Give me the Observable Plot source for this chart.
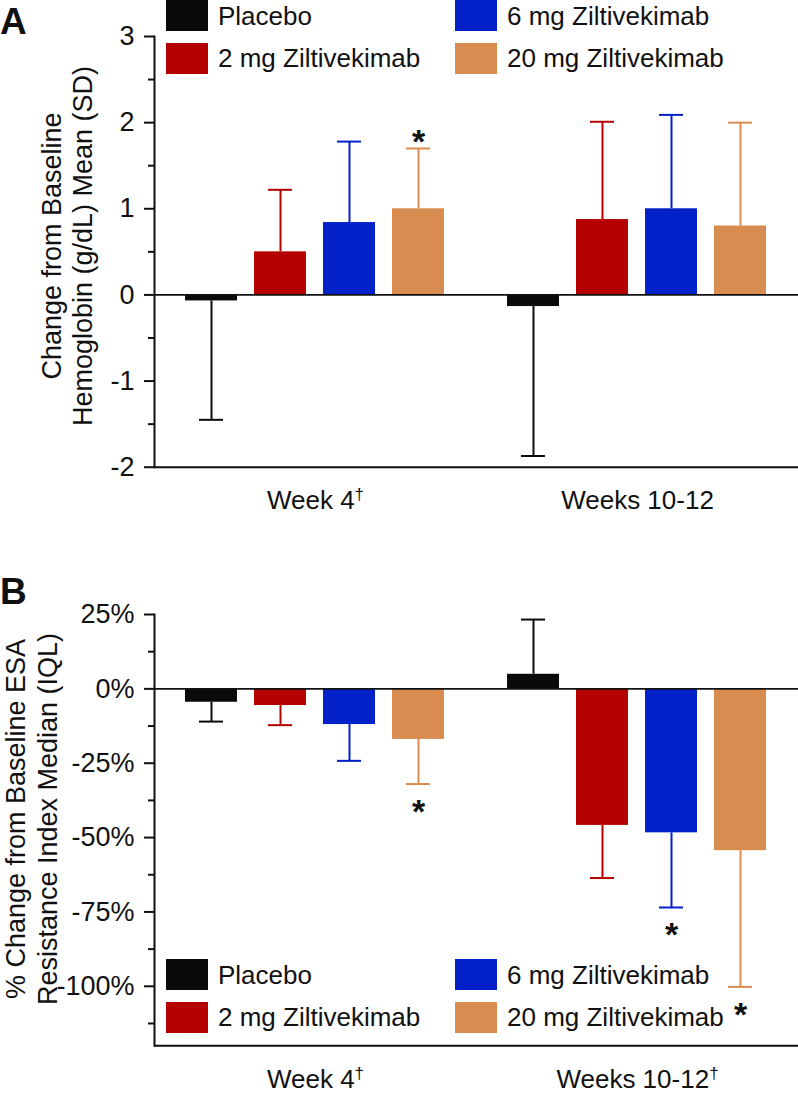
<!DOCTYPE html>
<html>
<head>
<meta charset="utf-8">
<script src="https://cdn.jsdelivr.net/npm/d3@7"></script>
<script src="https://cdn.jsdelivr.net/npm/@observablehq/plot@0.6"></script>
<style>
  body { margin: 0; background: #fff; font-family: "Liberation Sans", Arial, Helvetica, sans-serif; color: #111; }
  #root { position: relative; width: 798px; height: 1096px; overflow: hidden; background: #fff; }
  .panel { position: absolute; left: 0; }
  .plabel { position: absolute; font-weight: bold; font-size: 37px; line-height: 1; }
  .ytitle { position: absolute; text-align: center; transform: rotate(-90deg); transform-origin: center center; white-space: nowrap; }
  .legend { position: absolute; }
  .item { position: absolute; display: flex; align-items: center; height: 31px; font-size: 26px; line-height: 1; white-space: nowrap; }
  .sw { width: 42px; height: 31px; margin-right: 10px; flex: none; }
</style>
</head>
<body>
<div id="root"></div>
<script>
// ---------- data ----------
const groups = ["Placebo", "2 mg Ziltivekimab", "6 mg Ziltivekimab", "20 mg Ziltivekimab"];
const colors = ["#0a0a0a", "#b40000", "#0321c8", "#d88c50"];

// Panel A: change from baseline hemoglobin (g/dL), mean and end of SD bar
const timesA = ["Week 4†", "Weeks 10-12"];
const hbMeanW4 = [-0.07, 0.50, 0.84, 1.00];
const hbSdEndW4 = [-1.45, 1.22, 1.78, 1.70];
const hbMeanW12 = [-0.135, 0.875, 1.00, 0.80];
const hbSdEndW12 = [-1.87, 2.01, 2.09, 2.00];
const hbStarW4 = [false, false, false, true];
const hbStarW12 = [false, false, false, false];
const hbDomain = [-2, 3];
const hbTicks = [-2, -1, 0, 1, 2, 3];
const hbMinorTicks = [-1.5, -0.5, 0.5, 1.5, 2.5];

// Panel B: % change from baseline ESA resistance index, median and end of IQL bar
const timesB = ["Week 4†", "Weeks 10-12†"];
const esaMedW4 = [-4.5, -5.6, -12.0, -17.0];
const esaIqEndW4 = [-11.0, -12.2, -24.2, -32.0];
const esaMedW12 = [4.9, -45.9, -48.4, -54.4];
const esaIqEndW12 = [23.3, -63.6, -73.5, -100.2];
const esaStarW4 = [false, false, false, true];
const esaStarW12 = [false, false, true, true];
const esaDomain = [-120, 25];
const esaTicks = [-100, -75, -50, -25, 0, 25];
const esaMinorTicks = [-112.5, -87.5, -62.5, -37.5, -12.5, 12.5];

// ---------- helpers ----------
function buildRows(times, values, ends, stars) {
  return times.flatMap((t, ti) => groups.map((g, gi) => ({
    time: t, group: g, value: values[ti][gi], end: ends[ti][gi], star: stars[ti][gi]
  })));
}

const INK = "#111";

function panel({data, times, domain, ticks, minor, tickFormat, height, marginTop, marginBottom, fxPad}) {
  const starsUp = data.filter(d => d.star && d.end > d.value);
  const starsDown = data.filter(d => d.star && d.end < d.value);
  const chart = Plot.plot({
    width: 798,
    height,
    marginLeft: 154,
    marginRight: 0,
    marginTop,
    marginBottom,
    style: {fontFamily: "'Liberation Sans', Arial, sans-serif", fontSize: "26px", color: INK, background: "transparent", overflow: "visible"},
    fx: {domain: times, padding: 0, axis: null, label: null},
    x: {domain: groups, paddingInner: 0.246, paddingOuter: 0.456, axis: null, label: null},
    y: {domain, axis: null, label: null},
    color: {domain: groups, range: colors},
    marks: [
      Plot.barY(data, {fx: "time", x: "group", y: "value", fill: "group"}),
      Plot.ruleX(data, {fx: "time", x: "group", y1: "value", y2: "end", stroke: "group", strokeWidth: 2}),
      Plot.tickY(data, {fx: "time", x: "group", y: "end", stroke: "group", strokeWidth: 2, insetLeft: 14, insetRight: 14}),
      Plot.text(starsUp, {fx: "time", x: "group", y: "end", text: () => "*", fontSize: 34, fontWeight: "bold", lineAnchor: "middle", dy: -6, fill: INK}),
      Plot.text(starsDown, {fx: "time", x: "group", y: "end", text: () => "*", fontSize: 34, fontWeight: "bold", lineAnchor: "middle", dy: 28, fill: INK}),
      Plot.ruleY([0], {stroke: INK, strokeWidth: 1.6}),
      Plot.ruleY([domain[0]], {stroke: INK, strokeWidth: 2}),
      Plot.frame({anchor: "left", facetAnchor: "left", stroke: INK, strokeWidth: 2}),
      Plot.axisY(ticks, {tickSize: 10, tickPadding: 10, tickFormat, strokeWidth: 2, fontSize: 27, facetAnchor: "left", label: null}),
      Plot.axisY(minor, {tickSize: 6, tickFormat: () => "", strokeWidth: 2, facetAnchor: "left", label: null}),
      Plot.axisFx({anchor: "bottom", tickSize: 0, tickPadding: fxPad, fontSize: 26, label: null})
    ]
  });
  // raise the dagger as a small superscript
  chart.querySelectorAll("text").forEach(t => {
    const s = t.textContent;
    if (s.includes("†")) {
      const base = s.replace("†", "");
      while (t.firstChild) t.removeChild(t.firstChild);
      t.appendChild(document.createTextNode(base));
      const sup = document.createElementNS("http://www.w3.org/2000/svg", "tspan");
      sup.setAttribute("font-size", "17");
      sup.setAttribute("dy", "-9");
      sup.textContent = "†";
      t.appendChild(sup);
    }
  });
  return chart;
}

function legend(top) {
  const el = document.createElement("div");
  el.className = "legend";
  el.style.left = "0px";
  el.style.top = top + "px";
  const pos = [[166, 0], [166, 42.5], [455, 0], [455, 42.5]];
  groups.forEach((g, i) => {
    const it = document.createElement("div");
    it.className = "item";
    it.style.left = pos[i][0] + "px";
    it.style.top = pos[i][1] + "px";
    const sw = document.createElement("div");
    sw.className = "sw";
    sw.style.background = colors[i];
    const tx = document.createElement("span");
    tx.textContent = g;
    it.appendChild(sw);
    it.appendChild(tx);
    el.appendChild(it);
  });
  return el;
}

function yTitle(lines, cx, cy, fontSize, lineHeight) {
  const w = 520, h = lineHeight * lines.length;
  const el = document.createElement("div");
  el.className = "ytitle";
  el.style.width = w + "px";
  el.style.height = h + "px";
  el.style.left = (cx - w / 2) + "px";
  el.style.top = (cy - h / 2) + "px";
  el.style.fontSize = fontSize + "px";
  el.style.lineHeight = lineHeight + "px";
  el.innerHTML = lines.map(l => `<div>${l}</div>`).join("");
  return el;
}

function label(txt, left, top) {
  const el = document.createElement("div");
  el.className = "plabel";
  el.style.left = left + "px";
  el.style.top = top + "px";
  el.textContent = txt;
  return el;
}

// ---------- build ----------
const root = document.getElementById("root");

const dataA = buildRows(timesA, [hbMeanW4, hbMeanW12], [hbSdEndW4, hbSdEndW12], [hbStarW4, hbStarW12]);
const chartA = panel({
  data: dataA, times: timesA, domain: hbDomain, ticks: hbTicks, minor: hbMinorTicks,
  tickFormat: d => String(d),
  height: 530, marginTop: 36, marginBottom: 63.3, fxPad: 23
});
const wrapA = document.createElement("div");
wrapA.className = "panel";
wrapA.style.top = "0px";
wrapA.appendChild(chartA);
root.appendChild(wrapA);

const dataB = buildRows(timesB, [esaMedW4, esaMedW12], [esaIqEndW4, esaIqEndW12], [esaStarW4, esaStarW12]);
const chartB = panel({
  data: dataB, times: timesB, domain: esaDomain, ticks: esaTicks, minor: esaMinorTicks,
  tickFormat: d => `${d}%`,
  height: 566, marginTop: 84, marginBottom: 50.7, fxPad: 24
});
const wrapB = document.createElement("div");
wrapB.className = "panel";
wrapB.style.top = "530px";
wrapB.appendChild(chartB);
root.appendChild(wrapB);

root.appendChild(legend(0));
root.appendChild(legend(959));
root.appendChild(yTitle(["Change from Baseline", "Hemoglobin (g/dL) Mean (SD)"], 68, 246, 27, 31));
root.appendChild(yTitle(["% Change from Baseline ESA", "Resistance Index Median (IQL)"], 32, 819, 27, 32));
root.appendChild(label("A", 0, 3));
root.appendChild(label("B", 0, 573));
</script>
</body>
</html>
